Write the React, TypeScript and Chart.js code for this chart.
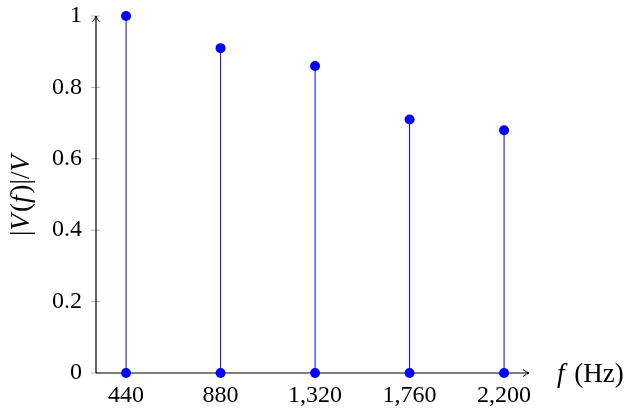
import { useEffect, useRef } from "react"
import { Chart, registerables } from "chart.js"

Chart.register(...registerables)

// Frequencies (Hz) and normalised magnitudes |V(f)|/V
const freqs = [440, 880, 1320, 1760, 2200]
const magnitudes = [1, 0.91, 0.86, 0.71, 0.68]
const yTicks = [0, 0.2, 0.4, 0.6, 0.8, 1]

const FONT = "Liberation Serif"
const BLUE = "#0000ff"

const axesPlugin = {
  id: "axes",
  beforeDatasetsDraw(chart: any) {
    const { ctx, chartArea, scales } = chart
    const { left, right, top, bottom } = chartArea
    const line = (x1: number, y1: number, x2: number, y2: number) => {
      ctx.beginPath()
      ctx.moveTo(x1, y1)
      ctx.lineTo(x2, y2)
      ctx.stroke()
    }
    ctx.save()
    // tick marks crossing the axes
    ctx.strokeStyle = "#a0a0a0"
    ctx.lineWidth = 0.8
    yTicks.forEach((v) => {
      const py = scales.y.getPixelForValue(v)
      line(left - 5, py, left + 4, py)
    })
    freqs.forEach((f) => {
      const px = scales.x.getPixelForValue(f)
      line(px, bottom - 4, px, bottom + 5)
    })
    // axis lines
    ctx.strokeStyle = "#000"
    ctx.lineWidth = 1.2
    line(left, bottom, right, bottom)
    line(left, bottom, left, top)
    // arrow heads
    ctx.lineWidth = 1
    ctx.beginPath()
    ctx.moveTo(right - 6, bottom - 3.5)
    ctx.quadraticCurveTo(right - 2, bottom - 0.5, right, bottom)
    ctx.quadraticCurveTo(right - 2, bottom + 0.5, right - 6, bottom + 3.5)
    ctx.stroke()
    ctx.beginPath()
    ctx.moveTo(left - 3.5, top + 6)
    ctx.quadraticCurveTo(left - 0.5, top + 2, left, top)
    ctx.quadraticCurveTo(left + 0.5, top + 2, left + 3.5, top + 6)
    ctx.stroke()
    ctx.restore()
  },
  afterDraw(chart: any) {
    const { ctx, chartArea } = chart
    const { top, bottom } = chartArea
    ctx.save()
    ctx.fillStyle = "#000"
    ctx.textBaseline = "alphabetic"

    // y title: |V(f)|/V with italic symbols
    const parts: [string, boolean][] = [
      ["|", false],
      ["V", true],
      ["(", false],
      ["f", true],
      [")|/", false],
      ["V", true],
    ]
    const fontOf = (it: boolean) => `${it ? "italic " : ""}27px "${FONT}"`
    let total = 0
    parts.forEach(([t, it]) => {
      ctx.font = fontOf(it)
      total += ctx.measureText(t).width + (it ? 2 : 0)
    })
    ctx.translate(29, (top + bottom) / 2)
    ctx.rotate(-Math.PI / 2)
    let cx = -total / 2
    parts.forEach(([t, it]) => {
      ctx.font = fontOf(it)
      ctx.fillText(t, cx, 0)
      cx += ctx.measureText(t).width + (it ? 2 : 0)
    })
    ctx.setTransform(1, 0, 0, 1, 0, 0)
    ctx.scale(chart.currentDevicePixelRatio, chart.currentDevicePixelRatio)

    // x title: f (Hz)
    ctx.font = fontOf(true)
    ctx.fillText("f", 557, 382)
    const fw = ctx.measureText("f").width
    ctx.font = fontOf(false)
    ctx.fillText(" (Hz)", 557 + fw + 3, 382)
    ctx.restore()
  },
}

export default function App() {
  const chartRef = useRef<HTMLCanvasElement>(null)
  const chartInstance = useRef<Chart | null>(null)

  useEffect(() => {
    if (!chartRef.current) return
    if (chartInstance.current) chartInstance.current.destroy()
    const ctx = chartRef.current.getContext("2d")
    if (!ctx) return

    const stems = freqs.map((f, i) => ({
      type: "scatter" as const,
      data: [
        { x: f, y: 0 },
        { x: f, y: magnitudes[i] },
      ],
      showLine: true,
      borderColor: BLUE,
      borderWidth: 1,
      pointRadius: 0,
      clip: false as any,
    }))

    chartInstance.current = new Chart(ctx, {
      type: "scatter",
      data: {
        datasets: [
          ...stems,
          {
            data: freqs.map((f) => ({ x: f, y: 0 })),
            backgroundColor: BLUE,
            borderWidth: 0,
            pointRadius: 5,
            clip: false as any,
          },
          {
            data: freqs.map((f, i) => ({ x: f, y: magnitudes[i] })),
            backgroundColor: BLUE,
            borderWidth: 0,
            pointRadius: 5,
            clip: false as any,
          },
        ],
      },
      options: {
        animation: false,
        responsive: true,
        maintainAspectRatio: false,
        layout: { padding: { left: 0, right: 106, top: 16, bottom: 0 } },
        plugins: { legend: { display: false }, tooltip: { enabled: false } },
        scales: {
          x: {
            type: "linear",
            min: 300,
            max: 2316,
            grid: { display: false, drawTicks: false },
            border: { display: false },
            afterBuildTicks: (scale: any) => {
              scale.ticks = freqs.map((v) => ({ value: v }))
            },
            afterFit: (scale: any) => {
              scale.height = 43
              scale.paddingLeft = 0
              scale.paddingRight = 0
            },
            ticks: {
              color: "#000",
              padding: 8,
              maxRotation: 0,
              font: { family: FONT, size: 24 },
              callback: (v: any) => Number(v).toLocaleString("en-US"),
            },
          },
          y: {
            type: "linear",
            min: 0,
            max: 1,
            grid: { display: false, drawTicks: false },
            border: { display: false },
            afterBuildTicks: (scale: any) => {
              scale.ticks = yTicks.map((v) => ({ value: v }))
            },
            afterFit: (scale: any) => {
              scale.width = 96
              scale.paddingTop = 0
              scale.paddingBottom = 0
            },
            ticks: {
              color: "#000",
              padding: 14,
              font: { family: FONT, size: 24 },
              callback: (v: any) => String(v),
            },
          },
        },
      },
      plugins: [axesPlugin],
    })

    return () => {
      if (chartInstance.current) {
        chartInstance.current.destroy()
        chartInstance.current = null
      }
    }
  }, [])

  return (
    <div style={{ position: "absolute", left: 0, top: 0, width: 635, height: 416, background: "#fff" }}>
      <canvas ref={chartRef}></canvas>
    </div>
  )
}
